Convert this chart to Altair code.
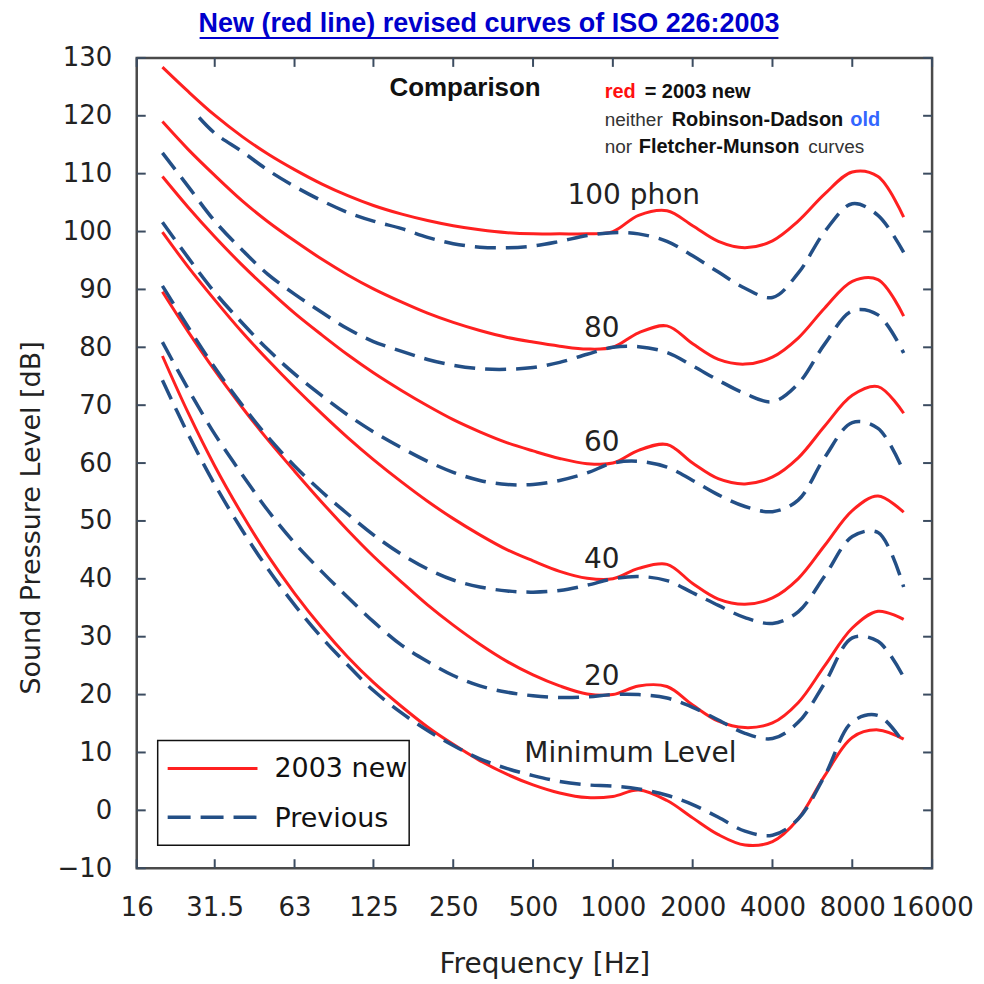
import altair as alt
import pandas as pd

# ---------------- data ----------------
freq = [20, 25, 31.5, 40, 50, 63, 80, 100, 125, 160, 200, 250, 315, 400, 500, 630,
        800, 1000, 1250, 1600, 2000, 2500, 3150, 4000, 5000, 6300, 8000, 10000, 12500]

# 2003 new (ISO 226:2003)
new_min = [78.5, 68.7, 59.5, 51.1, 44.0, 37.5, 31.5, 26.5, 22.1, 17.9, 14.4, 11.4, 8.6, 6.2, 4.4, 3.0,
           2.2, 2.4, 3.5, 1.7, -1.3, -4.2, -6.0, -5.4, -1.5, 6.0, 12.6, 13.9, 12.3]
new_20 = [89.6, 82.7, 76.0, 69.6, 64.0, 58.6, 53.2, 48.4, 43.9, 39.4, 35.5, 32.0, 28.7, 25.7, 23.4, 21.5,
          20.1, 20.0, 21.5, 21.4, 18.2, 15.4, 14.3, 15.1, 18.6, 25.0, 31.5, 34.4, 33.0]
new_40 = [99.9, 93.9, 88.2, 82.6, 77.8, 73.1, 68.5, 64.4, 60.6, 56.7, 53.4, 50.4, 47.6, 45.0, 43.1, 41.3,
          40.1, 40.0, 41.8, 42.5, 39.2, 36.5, 35.6, 36.7, 40.0, 45.8, 51.8, 54.3, 51.5]
new_60 = [109.5, 104.2, 99.1, 94.2, 90.0, 85.9, 82.1, 78.7, 75.6, 72.5, 69.9, 67.5, 65.4, 63.5, 62.1, 60.8,
          59.9, 60.0, 62.2, 63.2, 60.0, 57.3, 56.4, 57.6, 60.9, 66.4, 71.7, 73.2, 68.6]
new_80 = [119.0, 114.2, 109.7, 105.3, 101.7, 98.4, 95.2, 92.5, 90.1, 87.8, 85.9, 84.3, 82.9, 81.7, 80.9, 80.2,
          79.7, 80.0, 82.5, 83.7, 80.6, 77.9, 77.1, 78.3, 81.6, 86.8, 91.4, 91.7, 85.4]
new_100 = [128.4, 124.2, 120.1, 116.4, 113.4, 110.7, 108.2, 106.2, 104.5, 103.0, 101.9, 101.0, 100.3, 99.8, 99.6, 99.6,
           99.6, 100.0, 102.8, 103.6, 101.0, 98.3, 97.2, 98.4, 101.8, 106.5, 110.3, 109.5, 102.5]

# Previous (Robinson-Dadson)
prev_min = [74.3, 65.0, 56.3, 48.4, 41.7, 35.5, 29.8, 25.1, 20.7, 16.8, 13.8, 11.2, 8.9, 7.2, 6.0, 5.0,
            4.4, 4.2, 3.7, 2.6, 1.0, -1.2, -3.6, -4.3, -1.5, 6.0, 15.3, 16.4, 11.6]
prev_20 = [80.9, 72.8, 65.0, 58.0, 51.8, 46.2, 41.2, 36.8, 32.6, 28.5, 25.7, 23.3, 21.5, 20.4, 19.8, 19.5,
           19.6, 20.0, 20.0, 19.4, 17.8, 15.6, 13.3, 12.4, 15.2, 22.0, 29.8, 29.2, 23.0]
prev_40 = [90.6, 83.5, 76.5, 70.0, 64.5, 59.5, 55.0, 51.2, 47.6, 44.2, 41.7, 39.8, 38.6, 37.9, 37.7, 38.0,
           38.9, 40.0, 40.4, 39.7, 37.6, 35.4, 33.3, 32.3, 34.3, 40.5, 47.3, 48.0, 38.6]
prev_60 = [101.6, 95.5, 89.5, 84.2, 79.6, 75.4, 71.6, 68.3, 65.4, 62.6, 60.3, 58.4, 57.0, 56.3, 56.3, 57.0,
           58.3, 60.0, 60.3, 59.3, 57.0, 54.5, 52.5, 51.6, 53.6, 61.0, 67.0, 66.0, 58.5]
prev_80 = [113.6, 107.8, 101.8, 96.8, 92.6, 89.2, 86.0, 83.2, 81.0, 79.3, 77.9, 76.9, 76.3, 76.2, 76.5, 77.4,
           78.8, 80.0, 80.1, 79.1, 76.8, 74.3, 72.0, 70.6, 73.7, 80.6, 86.3, 85.6, 79.0]
prev100_freq = [27.5, 31.5, 40, 50, 63, 80, 100, 125, 160, 200, 250, 315, 400, 500, 630,
                800, 1000, 1250, 1600, 2000, 2500, 3150, 4000, 5000, 6300, 8000, 10000, 12500]
prev_100 = [119.7, 117.0, 113.8, 110.6, 107.8, 105.3, 103.3, 101.8, 100.5, 99.0, 97.9, 97.3, 97.2, 97.5, 98.3,
            99.3, 99.8, 99.6, 98.3, 95.8, 93.0, 90.2, 88.6, 92.8, 100.0, 104.8, 102.8, 96.4]

x_ticks = [16, 31.5, 63, 125, 250, 500, 1000, 2000, 4000, 8000, 16000]
y_ticks = [-10, 0, 10, 20, 30, 40, 50, 60, 70, 80, 90, 100, 110, 120, 130]

curve_labels = ["100 phon", "80", "60", "40", "20", "Minimum Level"]
label_freq = [1199, 909, 909, 909, 909, 1164]
label_db = [106.1, 83.1, 63.4, 43.2, 23.1, 9.8]

# ---------------- tables ----------------
rows = []
def add(series, group, fs, vs):
    for f, v in zip(fs, vs):
        rows.append({"series": series, "group": group, "f": f, "db": v})

for name, vals in [("n_min", new_min), ("n_20", new_20), ("n_40", new_40),
                   ("n_60", new_60), ("n_80", new_80), ("n_100", new_100)]:
    add(name, "2003 new", freq, vals)
for name, vals in [("p_min", prev_min), ("p_20", prev_20), ("p_40", prev_40),
                   ("p_60", prev_60), ("p_80", prev_80)]:
    add(name, "Previous", freq, vals)
add("p_100", "Previous", prev100_freq, prev_100)
df = pd.DataFrame(rows)

xt = pd.DataFrame({"f": x_ticks})
yt = pd.DataFrame({"db": y_ticks})
lab = pd.DataFrame({"t": curve_labels, "f": label_freq, "db": label_db})
one = pd.DataFrame({"k": [0]})

W, H = 797, 812
RED = "#ff2020"
BLUE = "#234f86"
TXT = "#222222"
TICK = "#3c4c60"

xscale = alt.Scale(type="log", domain=[16, 16000])
yscale = alt.Scale(domain=[-10, 130])

xaxis = alt.Axis(values=x_ticks, labelExpr="'' + datum.value", title=None, grid=False,
                 ticks=False, tickSize=0, domain=False, labelFont="DejaVu Sans",
                 labelFontSize=26, labelColor=TXT, labelPadding=26, labelFlush=False,
                 labelOverlap=False)
yaxis = alt.Axis(values=y_ticks, title=None, grid=False, ticks=False, tickSize=0, domain=False,
                 labelFont="DejaVu Sans", labelFontSize=26, labelColor=TXT, labelPadding=25,
                 labelOverlap=False)

X = alt.X("f:Q", scale=xscale, axis=xaxis)
Y = alt.Y("db:Q", scale=yscale, axis=yaxis)

red = alt.Chart(df).transform_filter(alt.datum.group == "2003 new").mark_line(
    interpolate="catmull-rom", strokeWidth=3, color=RED
).encode(x=X, y=Y, detail="series:N", order="f:Q")

blue = alt.Chart(df).transform_filter(alt.datum.group == "Previous").mark_line(
    interpolate="catmull-rom", strokeWidth=3.5, color=BLUE, strokeDash=[21, 10]
).encode(x=X, y=Y, detail="series:N", order="f:Q")

tick_b = alt.Chart(xt).mark_rule(color=TICK, strokeWidth=2).encode(
    x=X, y=alt.value(H), y2=alt.value(H - 9))
tick_t = alt.Chart(xt).mark_rule(color=TICK, strokeWidth=2).encode(
    x=X, y=alt.value(0), y2=alt.value(9))
tick_l = alt.Chart(yt).mark_rule(color=TICK, strokeWidth=2).encode(
    y=Y, x=alt.value(0), x2=alt.value(9))
tick_r = alt.Chart(yt).mark_rule(color=TICK, strokeWidth=2).encode(
    y=Y, x=alt.value(W), x2=alt.value(W - 9))

labels = alt.Chart(lab).mark_text(font="DejaVu Sans", fontSize=28, color=TXT,
                                  align="center", baseline="middle").encode(
    x=X, y=Y, text="t:N")

def txt(s, x, y, size, color=TXT, weight="normal", font="Liberation Sans", align="left", angle=0):
    kw = dict(text=s, font=font, fontSize=size, color=color, fontWeight=weight,
              align=align, baseline="middle")
    if angle:
        kw["angle"] = angle
    return alt.Chart(one).mark_text(**kw).encode(x=alt.value(x), y=alt.value(y))

notes = [
    txt("Comparison", 329, 30, 26, "#111111", "bold", align="center"),
    txt("red", 469, 34, 20, "#ff1010", "bold"),
    txt("= 2003 new", 509, 34, 20, "#111111", "bold"),
    txt("neither", 469, 62, 19, "#333333"),
    txt("Robinson-Dadson", 536, 62, 20, "#111111", "bold"),
    txt("old", 715, 62, 20, "#3366ff", "bold"),
    txt("nor", 469, 89, 19, "#333333"),
    txt("Fletcher-Munson", 503, 89, 20, "#111111", "bold"),
    txt("curves", 673, 89, 19, "#333333"),
    txt("New (red line) revised curves of ISO 226:2003", 353, -34, 27, "#0000cc", "bold",
        font="Liberation Sans Narrow, Liberation Sans", align="center"),
    txt("Sound Pressure Level [dB]", -105, 461, 27, TXT, font="DejaVu Sans",
        align="center", angle=270),
    txt("Frequency [Hz]", 409, 909, 28, TXT, font="DejaVu Sans", align="center"),
]

underline = alt.Chart(one).mark_rule(color="#0000cc", strokeWidth=2).encode(
    x=alt.value(63), x2=alt.value(643), y=alt.value(-20))

legend_box = alt.Chart(one).mark_rect(fill="white", stroke="#111111", strokeWidth=1.5).encode(
    x=alt.value(21), x2=alt.value(273), y=alt.value(684), y2=alt.value(789))
legend_red = alt.Chart(one).mark_rule(color=RED, strokeWidth=3).encode(
    x=alt.value(31), x2=alt.value(121), y=alt.value(712))
legend_blue = alt.Chart(one).mark_rule(color=BLUE, strokeWidth=3.5, strokeDash=[23, 10]).encode(
    x=alt.value(31), x2=alt.value(121), y=alt.value(761))
legend_t1 = txt("2003 new", 138, 713, 27, "#111111", font="DejaVu Sans")
legend_t2 = txt("Previous", 138, 763, 27, "#111111", font="DejaVu Sans")

chart = alt.layer(
    red, blue, tick_b, tick_t, tick_l, tick_r, labels, underline, *notes,
    legend_box, legend_red, legend_blue, legend_t1, legend_t2,
).properties(
    width=W, height=H,
    autosize=alt.AutoSizeParams(type="none"),
    padding={"left": 129, "top": 49, "right": 44, "bottom": 112},
).configure_view(stroke="#4a4a4a", strokeWidth=2.5)

chart.save("out.html", embed_options={"renderer": "svg", "actions": False})
